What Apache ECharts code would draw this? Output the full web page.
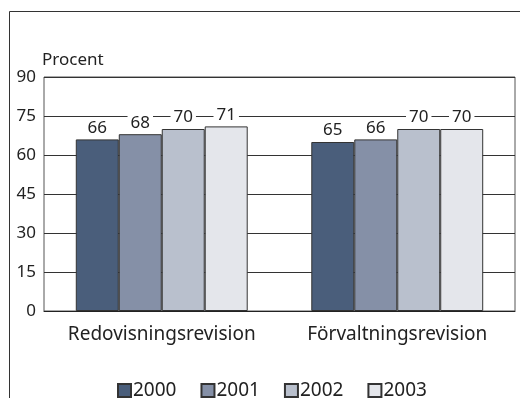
<!DOCTYPE html>
<html>
<head>
<meta charset="utf-8">
<script src="https://cdn.jsdelivr.net/npm/echarts@6/dist/echarts.min.js"></script>
<style>
  html, body { margin: 0; padding: 0; background: #fff; }
  #chart { width: 520px; height: 398px; }
</style>
</head>
<body>
<div id="chart"></div>
<script>
// Share of audits per type and year (percent)
const categories = ['Redovisningsrevision', 'Förvaltningsrevision'];
const years = ['2000', '2001', '2002', '2003'];
const values2000 = [66, 65];
const values2001 = [68, 66];
const values2002 = [70, 70];
const values2003 = [71, 70];
const yTicks = [0, 15, 30, 45, 60, 75, 90];

const seriesValues = [values2000, values2001, values2002, values2003];
const colors = ['#4a5e7b', '#8590a7', '#b9c0cd', '#e4e6eb'];
const font = 'Noto Sans';

const chart = echarts.init(document.getElementById('chart'), null, { renderer: 'canvas' });

chart.setOption({
  animation: false,
  textStyle: { fontFamily: font, color: '#222' },
  grid: {
    left: 44, right: 5, top: 77, bottom: 87,
    show: true, borderColor: '#555', borderWidth: 1, backgroundColor: '#fff'
  },
  legend: {
    data: years,
    top: 376,
    left: 112,
    icon: 'rect',
    itemWidth: 13,
    itemHeight: 13,
    itemGap: 24,
    textStyle: { fontFamily: font, fontSize: 19, color: '#222', padding: [0, 0, 0, -3] }
  },
  xAxis: {
    type: 'category',
    data: categories,
    axisLine: { show: true, lineStyle: { color: '#222', width: 1 } },
    axisTick: { show: false },
    axisLabel: { interval: 0, hideOverlap: false, fontFamily: font, fontSize: 19, color: '#222', margin: 14 }
  },
  yAxis: {
    type: 'value',
    min: yTicks[0],
    max: yTicks[yTicks.length - 1],
    interval: yTicks[1] - yTicks[0],
    name: 'Procent',
    nameLocation: 'end',
    nameGap: 8,
    nameTextStyle: { fontFamily: font, fontSize: 17, color: '#222', align: 'left', padding: [0, 0, 0, -2] },
    axisLine: { show: false },
    axisTick: { show: false },
    axisLabel: { fontFamily: font, fontSize: 17, color: '#222', margin: 8 },
    splitLine: { show: true, lineStyle: { color: '#333', width: 1 } }
  },
  series: years.map((y, i) => ({
    name: y,
    type: 'bar',
    data: seriesValues[i],
    barGap: '0%',
    barCategoryGap: '27%',
    itemStyle: { color: colors[i], borderColor: '#333', borderWidth: 1 },
    label: {
      show: true,
      position: 'top',
      distance: 3,
      fontFamily: font,
      fontSize: 17,
      color: '#222',
      backgroundColor: '#fff',
      padding: [0, 3, 0, 3]
    }
  })),
  graphic: [{
    type: 'polyline',
    shape: { points: [[9.5, 398], [9.5, 11.5], [520, 11.5]] },
    style: { stroke: '#333', lineWidth: 1, fill: null },
    z: 10
  }]
});
</script>
</body>
</html>
